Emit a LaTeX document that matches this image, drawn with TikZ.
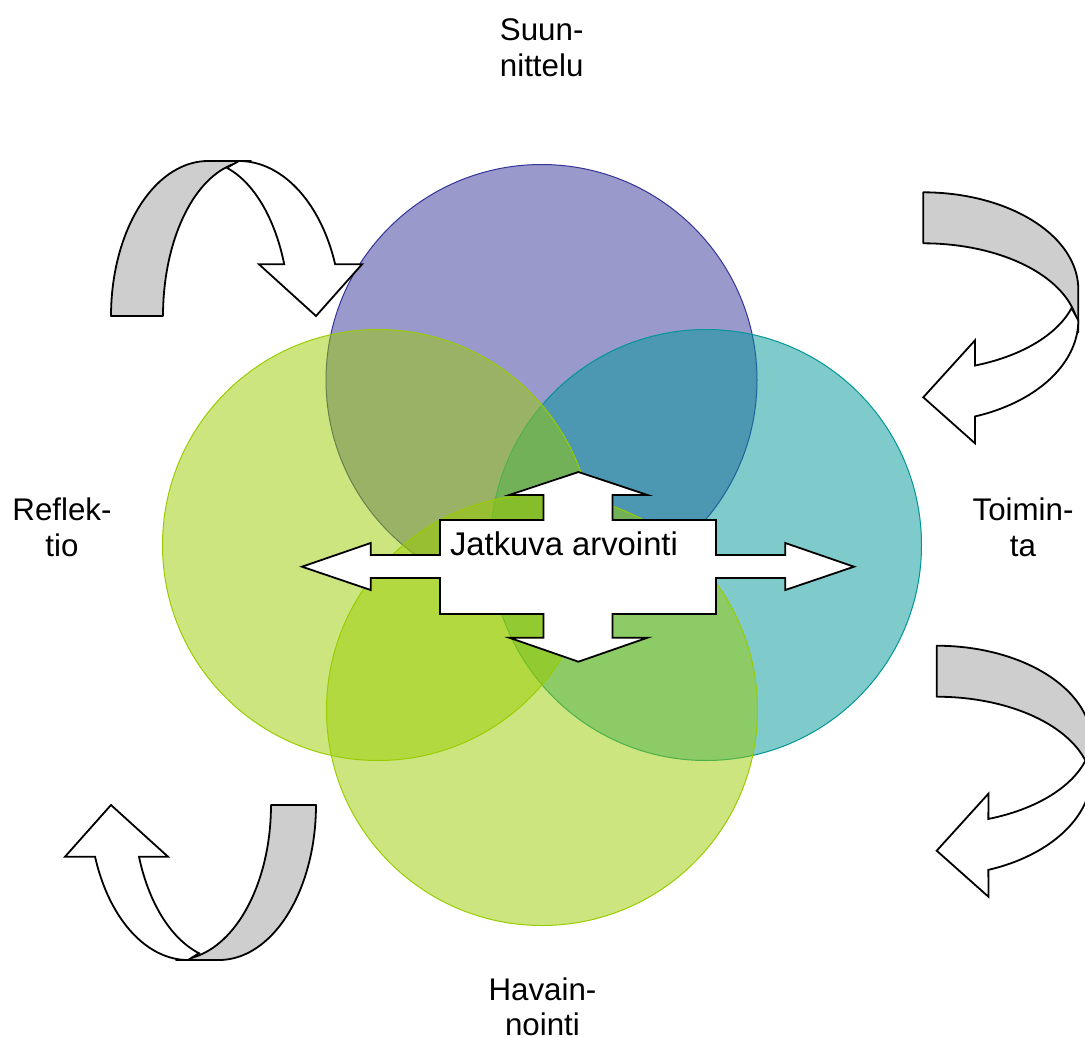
\documentclass[tikz,border=0pt]{standalone}
\usepackage{fontspec}
\setmainfont{Liberation Sans}
\definecolor{topcol}{RGB}{51,51,153}
\definecolor{tealcol}{RGB}{0,150,150}
\definecolor{greencol}{RGB}{153,204,0}
\definecolor{bandgray}{RGB}{206,206,206}
\newcommand{\curvedarr}[3]{%
  \filldraw[backband]
    plot[domain=180:90,samples=40,variable=\t] ({97+97*cos(\t)},{-155*sin(\t)})
    -- plot[domain=90:180,samples=40,variable=\t] ({140+#1*cos(\t)},{-155*sin(\t)})
    -- cycle;
  \filldraw[frontband]
    plot[domain=90:19.48,samples=40,variable=\t] ({128+#3*cos(\t)},{-155*sin(\t)})
    -- (251,-51.7) -- (205,0) -- (148,-51.7)
    -- plot[domain=19.48:73,samples=30,variable=\t] ({90+#2*cos(\t)},{-155*sin(\t)})
    -- cycle;
}
\begin{document}
\begin{tikzpicture}[x=1pt,y=-1pt,
  circ/.style={circle,minimum size=431pt,inner sep=0pt,line width=1pt,fill opacity=0.5},
  backband/.style={fill=bandgray,draw=black,line width=1.8pt,line join=round},
  frontband/.style={fill=white,draw=black,line width=1.8pt,line join=miter},
  crossarrow/.style={fill=white,draw=black,line width=1.8pt,line join=miter},
  lbl/.style={font=\fontsize{31.3}{37}\selectfont,anchor=base,inner sep=0pt},
  midlbl/.style={font=\fontsize{32.8}{38}\selectfont,anchor=base,inner sep=0pt}]
\useasboundingbox (0,0) rectangle (1085,1037);
\clip (0,0) rectangle (1085,1037);

% circles
\node[circ,draw=topcol,fill=topcol] (cplan) at (541.5,380) {};
\node[circ,draw=tealcol,fill=tealcol] (cact) at (706,545) {};
\node[circ,draw=greencol,fill=greencol] (crefl) at (378,545) {};
\node[circ,draw=greencol,fill=greencol] (cobs) at (542,710) {};

% curved arrows
\begin{scope}[shift={(111,316)}]
  \curvedarr{88}{88.3}{102}
\end{scope}
\begin{scope}[shift={(923.3,192.3)},rotate=-90]
  \curvedarr{89}{88.3}{102}
\end{scope}
\begin{scope}[shift={(936.7,645.7)},rotate=-90]
  \curvedarr{89}{88.3}{102}
\end{scope}
\begin{scope}[shift={(316,805)},rotate=180]
  \curvedarr{95}{92.3}{98.6}
\end{scope}

% central four-way arrow
\filldraw[crossarrow]
  (578.4,472) -- (647.5,495) -- (612.5,495) -- (612.5,520) -- (716,520)
  -- (716,555) -- (785.3,555) -- (785.3,543) -- (854,566.7) -- (785.3,590)
  -- (785.3,578) -- (716,578) -- (716,614) -- (612.5,614) -- (612.5,637.7)
  -- (647.5,637.7) -- (578.4,661.7) -- (509.3,637.7) -- (543.5,637.7)
  -- (543.5,614) -- (440,614) -- (440,578) -- (370.7,578) -- (370.7,590)
  -- (302,566.7) -- (370.7,543) -- (370.7,555) -- (440,555) -- (440,520)
  -- (543.5,520) -- (543.5,495) -- (509.3,495) -- cycle;
\node[midlbl] (jatk) at (564,555) {Jatkuva arvointi};

% labels
\node[lbl] (suun1) at (541.7,40.7) {Suun-};
\node[lbl] (suun2) at (541.7,76) {nittelu};
\node[lbl] (refl1) at (62,520.7) {Reflek-};
\node[lbl] (refl2) at (62,556) {tio};
\node[lbl] (toim1) at (1023,520.7) {Toimin-};
\node[lbl] (toim2) at (1023,556) {ta};
\node[lbl] (hav1) at (542.5,1000.5) {Havain-};
\node[lbl] (hav2) at (542.5,1035) {nointi};
\end{tikzpicture}
\end{document}
